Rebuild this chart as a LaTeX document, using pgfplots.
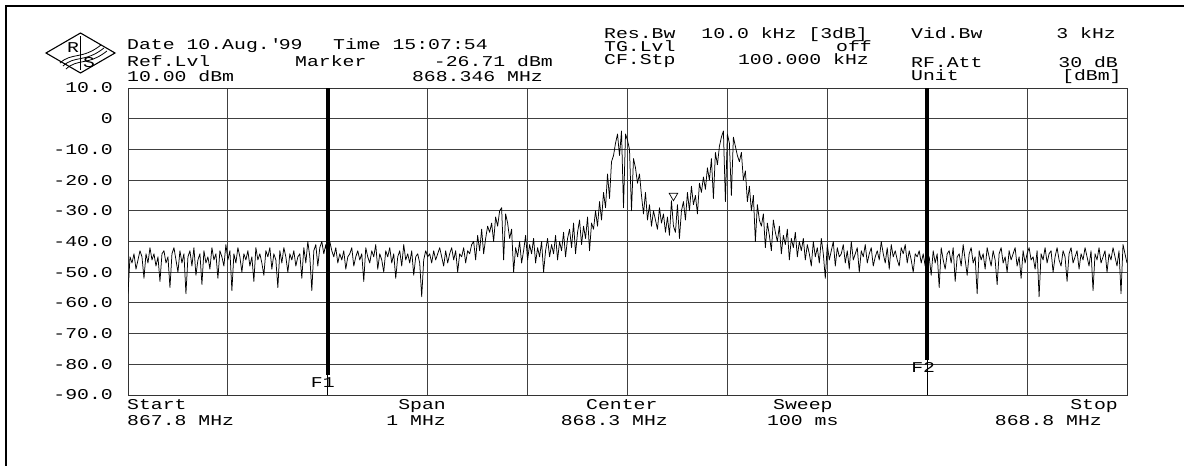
\documentclass[border=0pt]{standalone}
\usepackage{pgfplots}
\pgfplotsset{compat=1.18}
\usepackage{fontspec}
\newfontfamily\rs[FakeStretch=1.32]{Liberation Mono}
\newcommand{\rsf}{\rs\fontsize{15}{15}\selectfont}
\begin{document}
\begin{tikzpicture}[x=1pt,y=-1pt]
\path[use as bounding box] (0,0) rectangle (1184,466);
% outer frame
\draw[line width=1.8pt] (6,466) -- (6,6) -- (1184,6);
% logo
\draw[line width=1.1pt] (46,53) -- (80.5,33) -- (115,53) -- (80.5,73) -- cycle;
\draw[line width=0.8pt] (80.5,36) -- (80.5,70);
\draw[line width=0.8pt] (60,63) .. controls (72,52) and (82,60) .. (101,45);
\draw[line width=0.8pt] (63,66) .. controls (75,55) and (85,63) .. (104,48);
\draw[line width=0.8pt] (66,69) .. controls (78,58) and (88,66) .. (107,51);
\node[font=\rsf, inner sep=0pt, anchor=base] at (73,52) {R};
\node[font=\rsf, inner sep=0pt, anchor=base] at (89,67) {S};
% header texts
\begin{scope}[every node/.style={font=\rsf, inner sep=0pt}]
\node[anchor=base west] at (127,49) {Date 10.Aug.\textquotesingle 99};
\node[anchor=base west] at (333,49) {Time 15:07:54};
\node[anchor=base west] at (127,66) {Ref.Lvl};
\node[anchor=base west] at (295,66) {Marker};
\node[anchor=base east] at (553,66) {-26.71 dBm};
\node[anchor=base west] at (127,81) {10.00 dBm};
\node[anchor=base east] at (543,81) {868.346 MHz};
\node[anchor=base west] at (604,38) {Res.Bw};
\node[anchor=base east] at (868,38) {10.0 kHz [3dB]};
\node[anchor=base west] at (911,38) {Vid.Bw};
\node[anchor=base east] at (1116,38) {3 kHz};
\node[anchor=base west] at (604,51) {TG.Lvl};
\node[anchor=base east] at (872,51) {off};
\node[anchor=base west] at (604,64) {CF.Stp};
\node[anchor=base east] at (869,64) {100.000 kHz};
\node[anchor=base west] at (911,67) {RF.Att};
\node[anchor=base east] at (1118,67) {30 dB};
\node[anchor=base west] at (911,80) {Unit};
\node[anchor=base west] at (1062,80) {[dBm]};
% footer texts
\node[anchor=base west] at (127,409) {Start};
\node[anchor=base west] at (127,425) {867.8 MHz};
\node[anchor=base east] at (446,409) {Span};
\node[anchor=base east] at (446,425) {1 MHz};
\node[anchor=base west] at (586,409) {Center};
\node[anchor=base east] at (668,425) {868.3 MHz};
\node[anchor=base west] at (773,409) {Sweep};
\node[anchor=base west] at (767,425) {100 ms};
\node[anchor=base east] at (1118,409) {Stop};
\node[anchor=base east] at (1102,425) {868.8 MHz};
\end{scope}
\begin{axis}[
  at={(128pt,-395pt)}, anchor=south west,
  width=999pt, height=307pt, scale only axis,
  xmin=0, xmax=1000, ymin=-90, ymax=10,
  xtick={0,100,...,1000}, xticklabel={\relax},
  ytick={-90,-80,...,10},
  yticklabels={-90.0,-80.0,-70.0,-60.0,-50.0,-40.0,-30.0,-20.0,-10.0,0,10.0},
  yticklabel style={font=\rsf, anchor=east, inner sep=0pt, xshift=-15pt},
  major tick length=0pt,
  grid=major,
  major grid style={black!75, line width=0.9pt},
  axis line style={black!80, line width=1pt},
]
\addplot[black, line width=0.75pt, line join=round] table[row sep=\\, header=false, x expr=\coordindex*2, y index=0] {
-57\\ -45\\ -47\\ -44\\ -49\\ -46\\ -43\\ -45\\ -52\\ -44\\
-47\\ -42\\ -46\\ -44\\ -48\\ -45\\ -53\\ -44\\ -43\\ -47\\
-45\\ -55\\ -44\\ -42\\ -46\\ -50\\ -43\\ -47\\ -44\\ -57\\
-45\\ -43\\ -48\\ -42\\ -51\\ -46\\ -44\\ -54\\ -43\\ -47\\
-45\\ -49\\ -42\\ -46\\ -44\\ -52\\ -43\\ -45\\ -48\\ -41\\
-46\\ -43\\ -56\\ -44\\ -47\\ -42\\ -45\\ -50\\ -44\\ -46\\
-43\\ -48\\ -45\\ -53\\ -42\\ -46\\ -44\\ -47\\ -51\\ -43\\
-45\\ -42\\ -49\\ -44\\ -46\\ -55\\ -43\\ -47\\ -42\\ -45\\
-50\\ -44\\ -46\\ -43\\ -48\\ -45\\
-44\\ -52\\ -42\\ -47\\ -40\\ -45\\ -56\\ -43\\ -41\\ -48\\ -42\\ -40\\ -44\\ -41\\ -46\\
-40\\ -43\\ -45\\ -42\\ -47\\ -44\\ -46\\ -43\\ -49\\ -45\\
-44\\ -42\\ -48\\ -45\\ -43\\ -46\\ -44\\ -53\\ -42\\ -45\\
-47\\ -43\\ -45\\ -41\\ -49\\ -44\\ -46\\ -50\\ -43\\ -45\\
-42\\ -47\\ -44\\ -52\\ -45\\ -43\\ -48\\ -41\\ -46\\ -44\\
-47\\ -43\\ -51\\ -45\\ -44\\ -47\\ -58\\ -46\\ -43\\ -45\\
-44\\ -47\\ -43\\ -46\\ -44\\ -42\\ -45\\ -48\\ -43\\ -47\\
-44\\ -42\\ -46\\ -43\\ -50\\ -44\\ -45\\ -42\\ -47\\ -43\\
-44\\ -41\\
-40\\ -46\\ -38\\ -43\\ -36\\ -44\\ -39\\ -35\\
-37\\ -34\\ -40\\ -32\\ -35\\ -30\\ -29\\ -46\\ -31\\ -34\\ -39\\ -36\\ -50\\
-42\\ -45\\ -40\\ -47\\ -43\\ -38\\ -46\\ -41\\ -44\\ -39\\ -47\\ -42\\ -45\\ -40\\ -50\\ -43\\ -39\\ -45\\ -41\\ -44\\ -38\\ -46\\ -40\\ -43\\ -37\\ -45\\ -39\\
-36\\ -42\\ -34\\ -44\\ -37\\ -33\\ -41\\ -35\\ -39\\ -32\\ -43\\ -34\\ -36\\
-30\\ -35\\ -27\\ -33\\ -24\\ -29\\ -18\\ -26\\ -14\\ -12\\
-8\\ -5\\ -12\\ -4\\ -29\\ -5\\ -7\\
-10\\ -30\\ -13\\ -16\\ -21\\ -18\\ -25\\
-31\\ -24\\ -33\\ -28\\ -35\\ -30\\ -33\\ -36\\ -29\\ -34\\ -31\\ -37\\ -32\\ -38\\ -26.71\\ -35\\ -37\\ -28\\ -39\\ -30\\
-27\\ -33\\ -24\\ -30\\ -22\\ -28\\ -25\\ -31\\ -21\\ -24\\
-19\\ -23\\ -16\\ -20\\ -13\\ -26\\ -11\\ -15\\ -9\\
-6\\ -4\\ -27\\ -5\\ -8\\ -25\\ -6\\ -9\\ -12\\
-14\\ -11\\ -20\\ -17\\ -27\\ -22\\ -30\\ -25\\ -40\\ -28\\ -33\\
-35\\ -31\\ -42\\ -34\\ -38\\ -43\\ -33\\ -37\\ -40\\ -35\\ -44\\ -38\\ -41\\ -36\\ -46\\ -39\\ -42\\ -37\\ -45\\ -40\\
-43\\ -39\\ -46\\ -41\\ -44\\ -48\\ -40\\ -45\\ -42\\ -47\\
-39\\ -44\\ -52\\ -41\\ -46\\ -43\\ -40\\ -48\\ -42\\ -45\\
-44\\ -41\\ -47\\ -43\\ -49\\ -40\\ -46\\ -44\\ -42\\ -50\\
-43\\ -45\\ -41\\ -47\\ -44\\ -42\\ -48\\ -45\\ -43\\ -46\\
-40\\ -44\\ -47\\ -42\\ -49\\ -41\\ -45\\ -43\\ -46\\ -48\\
-42\\ -44\\ -41\\ -47\\ -43\\ -46\\ -50\\ -44\\ -45\\ -43\\
-47\\ -44\\ -48\\ -46\\
-45\\ -51\\ -43\\ -47\\ -44\\ -55\\ -42\\ -46\\ -49\\ -44\\
-43\\ -47\\ -42\\ -53\\ -45\\ -44\\ -48\\ -41\\ -46\\ -51\\
-44\\ -42\\ -47\\ -45\\ -57\\ -43\\ -46\\ -44\\ -49\\ -42\\
-45\\ -48\\ -43\\ -46\\ -54\\ -44\\ -42\\ -47\\ -45\\ -50\\
-43\\ -46\\ -44\\ -42\\ -48\\ -45\\ -52\\ -43\\ -47\\ -44\\
-42\\ -46\\ -45\\ -49\\ -43\\ -58\\ -44\\ -46\\ -42\\ -47\\
-44\\ -43\\ -50\\ -45\\ -42\\ -46\\ -48\\ -43\\ -45\\ -53\\
-44\\ -42\\ -47\\ -45\\ -43\\ -49\\ -44\\ -46\\ -42\\ -45\\
-48\\ -43\\ -56\\ -44\\ -46\\ -42\\ -47\\ -45\\ -43\\ -50\\
-44\\ -46\\ -42\\ -45\\ -48\\ -43\\ -57\\ -41\\ -44\\ -47\\
};
% F1 / F2 display lines
\addplot[black, line width=4.5pt] coordinates {(200,10) (200,-83.5)};
\addplot[black, line width=1pt] coordinates {(200,-83.5) (200,-90)};
\addplot[black, line width=4.5pt] coordinates {(800,10) (800,-78.6)};
\addplot[black, line width=1pt] coordinates {(800,-78.6) (800,-90)};
% marker
\addplot[black, only marks, mark=triangle, mark size=5pt, mark options={yshift=5pt, rotate=180, line width=0.7pt, fill=white}] coordinates {(546,-26.71)};
\node[font=\rsf, inner sep=0pt] at (axis cs:195,-85.8) {F1};
\node[font=\rsf, inner sep=0pt] at (axis cs:796,-80.9) {F2};
\end{axis}
\end{tikzpicture}
\end{document}
